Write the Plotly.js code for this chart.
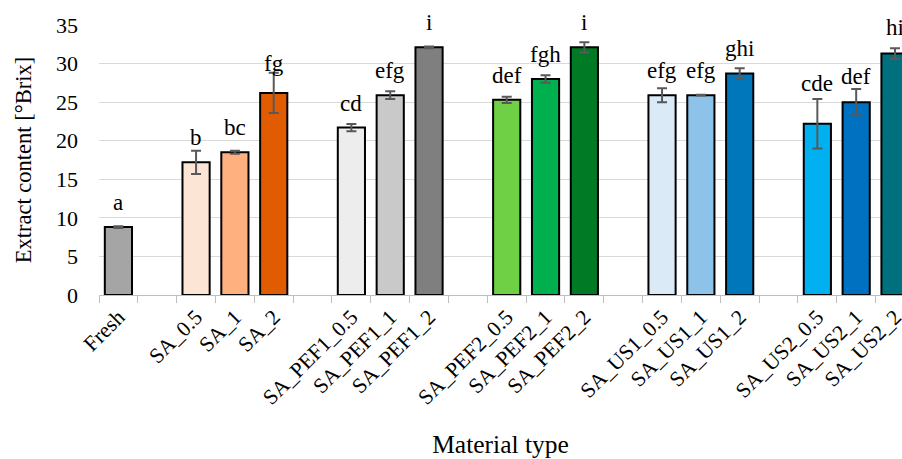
<!DOCTYPE html>
<html>
<head>
<meta charset="utf-8">
<script src="https://cdn.plot.ly/plotly-3.0.1.min.js"></script>
<style>html,body{margin:0;padding:0;background:#fff;}#chart{width:902px;height:459px;}</style>
</head>
<body>
<div id="chart"></div>
<script>
// Axis order, with empty slots between groups (tick labels)
const axisCategories = ["Fresh", " ", "SA_0.5", "SA_1", "SA_2", "  ",
  "SA_PEF1_0.5", "SA_PEF1_1", "SA_PEF1_2", "   ",
  "SA_PEF2_0.5", "SA_PEF2_1", "SA_PEF2_2", "    ",
  "SA_US1_0.5", "SA_US1_1", "SA_US1_2", "     ",
  "SA_US2_0.5", "SA_US2_1", "SA_US2_2"];

const categories = ["Fresh", "SA_0.5", "SA_1", "SA_2",
  "SA_PEF1_0.5", "SA_PEF1_1", "SA_PEF1_2",
  "SA_PEF2_0.5", "SA_PEF2_1", "SA_PEF2_2",
  "SA_US1_0.5", "SA_US1_1", "SA_US1_2",
  "SA_US2_0.5", "SA_US2_1", "SA_US2_2"];

const extractValues = [8.8, 17.2, 18.5, 26.2,
  21.7, 25.9, 32.1,
  25.3, 28.0, 32.1,
  25.9, 25.9, 28.7,
  22.2, 25.0, 31.3];

const errorValues = [0.12, 1.5, 0.2, 2.6,
  0.48, 0.5, 0.1,
  0.4, 0.5, 0.65,
  0.9, 0.05, 0.7,
  3.2, 1.7, 0.67];

const letters = ["a", "b", "bc", "fg",
  "cd", "efg", "i",
  "def", "fgh", "i",
  "efg", "efg", "ghi",
  "cde", "def", "hi"];

// level (in °Brix) that each significance letter sits on
const letterLevel = [8.8, 17.2, 18.5, 26.8,
  21.7, 25.9, 32.1,
  25.3, 28.0, 32.1,
  25.9, 25.9, 28.8,
  24.2, 25.1, 31.5];

const barColors = ["#a5a5a5", "#fde5d6", "#ffb07f", "#e15b00",
  "#ededed", "#c9c9c9", "#7f7f7f",
  "#6fcf45", "#00b04f", "#007a24",
  "#daeaf7", "#8dc3e8", "#0077bb",
  "#00b0f0", "#0070c0", "#00707f"];

const FONT = "'Liberation Serif', 'Times New Roman', serif";

const trace = {
  type: "bar",
  x: categories,
  y: extractValues,
  marker: {color: barColors, line: {color: "#000000", width: 2}},
  error_y: {type: "data", array: errorValues, visible: true, color: "#595959", thickness: 2, width: 5},
  hoverinfo: "skip"
};

const annotations = categories.map((c, i) => ({
  x: c, y: letterLevel[i], xref: "x", yref: "y",
  text: letters[i], showarrow: false,
  yanchor: "bottom", yshift: 10,
  font: {family: FONT, size: 23, color: "#000000"}
}));

const layout = {
  width: 902, height: 459,
  margin: {l: 99, r: 0, t: 25, b: 164},
  paper_bgcolor: "#ffffff", plot_bgcolor: "#ffffff",
  showlegend: false,
  bargap: 0.3,
  font: {family: FONT, color: "#000000"},
  xaxis: {
    type: "category",
    categoryorder: "array",
    categoryarray: axisCategories,
    range: [-0.5, 20.18],
    tickson: "boundaries",
    ticks: "outside", ticklen: 7, tickcolor: "#bfbfbf", tickwidth: 1,
    showline: true, linecolor: "#bfbfbf", linewidth: 1,
    showgrid: false,
    tickangle: -45,
    tickfont: {family: FONT, size: 21.5, color: "#000000"},
    title: {text: "Material type", font: {family: FONT, size: 25.5, color: "#000000"}, standoff: 30},
    automargin: false, fixedrange: true
  },
  yaxis: {
    range: [0, 35],
    dtick: 5,
    showgrid: true, gridcolor: "#d9d9d9", gridwidth: 1,
    zeroline: false, showline: false,
    ticks: "", ticklabelstandoff: 20,
    tickfont: {family: FONT, size: 22, color: "#000000"},
    title: {text: "Extract content [°Brix]", font: {family: FONT, size: 22.5, color: "#000000"}, standoff: 18},
    automargin: false, fixedrange: true
  },
  annotations: annotations
};

Plotly.newPlot("chart", [trace], layout, {staticPlot: true, displayModeBar: false});
</script>
</body>
</html>
